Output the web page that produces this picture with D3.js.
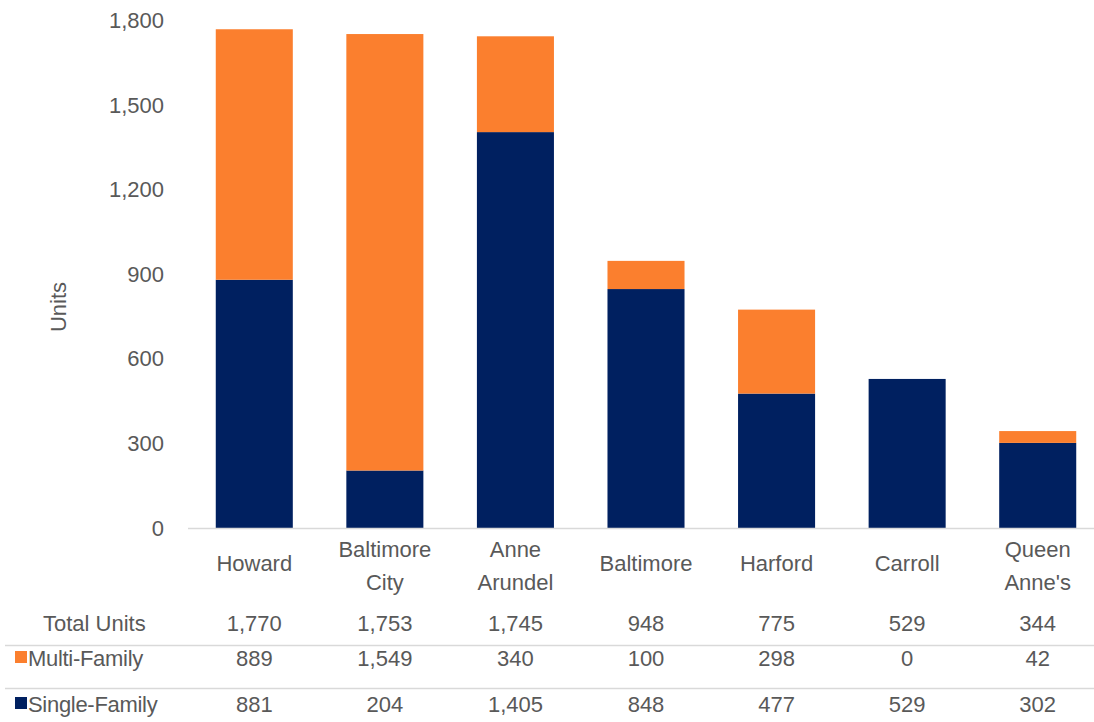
<!DOCTYPE html>
<html>
<head>
<meta charset="utf-8">
<script src="https://cdn.jsdelivr.net/npm/d3@7"></script>
<style>
  html, body { margin: 0; padding: 0; background: #fff; }
  svg { display: block; font-family: "Liberation Sans", Arial, sans-serif; }
</style>
</head>
<body>
<svg id="chart" width="1094" height="722"></svg>
<script>
// Residential units by county
const categories   = ["Howard", "Baltimore City", "Anne Arundel", "Baltimore", "Harford", "Carroll", "Queen Anne's"];
const multiFamily  = [889, 1549, 340, 100, 298, 0, 42];
const singleFamily = [881, 204, 1405, 848, 477, 529, 302];
const yTicks       = [0, 300, 600, 900, 1200, 1500, 1800];
const seriesNames  = ["Single-Family", "Multi-Family"];
const seriesColors = ["#002060", "#FB7F2E"];

const totals = categories.map((_, i) => singleFamily[i] + multiFamily[i]);
const rows = categories.map((c, i) => ({ county: c, "Single-Family": singleFamily[i], "Multi-Family": multiFamily[i] }));

const svg = d3.select("#chart");
const textColor = "#595959";

const x = d3.scaleBand().domain(categories).range([189, 1103]).paddingInner(0.41).paddingOuter(0.205);
const y = d3.scaleLinear().domain([0, 1800]).range([528, 20.8]);
const color = d3.scaleOrdinal().domain(seriesNames).range(seriesColors);

// stacked bars
const stacked = d3.stack().keys(seriesNames)(rows);
svg.append("g").selectAll("g").data(stacked).join("g")
  .attr("fill", d => color(d.key))
  .selectAll("rect").data(d => d).join("rect")
  .attr("x", d => x(d.data.county))
  .attr("width", x.bandwidth())
  .attr("y", d => y(d[1]))
  .attr("height", d => y(d[0]) - y(d[1]));

// baseline
svg.append("line")
  .attr("x1", 188).attr("x2", 1094)
  .attr("y1", y(0) + 0.5).attr("y2", y(0) + 0.5)
  .attr("stroke", "#d9d9d9").attr("stroke-width", 1.5);

// y axis labels
const yAxis = svg.append("g").attr("transform", "translate(164,0)")
  .call(d3.axisLeft(y).tickValues(yTicks).tickFormat(d3.format(",")).tickSize(0).tickPadding(0));
yAxis.select(".domain").remove();
yAxis.selectAll("text").attr("fill", textColor).style("font-size", "22px")
  .style("font-family", "'Liberation Sans', Arial, sans-serif");

svg.append("text")
  .attr("transform", "translate(66,307) rotate(-90)")
  .attr("text-anchor", "middle")
  .attr("fill", textColor).style("font-size", "22px")
  .text("Units");

// category labels (multi-word names wrap onto two lines)
const catG = svg.append("g");
categories.forEach(c => {
  const words = c.split(" ");
  const cx = x(c) + x.bandwidth() / 2;
  const t = catG.append("text").attr("text-anchor", "middle")
    .attr("fill", textColor).style("font-size", "22px");
  if (words.length === 1) {
    t.append("tspan").attr("x", cx).attr("y", 571).text(c);
  } else {
    t.append("tspan").attr("x", cx).attr("y", 557).text(words[0]);
    t.append("tspan").attr("x", cx).attr("y", 590).text(words.slice(1).join(" "));
  }
});

// data table below the chart
const fmt = d3.format(",");
const tableRows = [
  { label: "Total Units",   values: totals,       key: null,            y: 631 },
  { label: "Multi-Family",  values: multiFamily,  key: "Multi-Family",  y: 666 },
  { label: "Single-Family", values: singleFamily, key: "Single-Family", y: 712 }
];

const tbl = svg.append("g");
[645.5, 688.5].forEach(ly => {
  tbl.append("line").attr("x1", 5).attr("x2", 1094).attr("y1", ly).attr("y2", ly)
    .attr("stroke", "#d9d9d9").attr("stroke-width", 1.5);
});

tableRows.forEach(r => {
  if (r.key) {
    tbl.append("rect").attr("x", 15).attr("y", r.y - 15).attr("width", 12).attr("height", 12)
      .attr("fill", color(r.key));
    tbl.append("text").attr("x", 28).attr("y", r.y).attr("fill", textColor)
      .style("font-size", "22px").style("letter-spacing", "-0.3px").text(r.label);
  } else {
    tbl.append("text").attr("x", 43).attr("y", r.y).attr("fill", textColor)
      .style("font-size", "22px").text(r.label);
  }
  r.values.forEach((v, i) => {
    tbl.append("text").attr("x", x(categories[i]) + x.bandwidth() / 2).attr("y", r.y)
      .attr("text-anchor", "middle").attr("fill", textColor)
      .style("font-size", "22px").text(fmt(v));
  });
});
</script>
</body>
</html>
